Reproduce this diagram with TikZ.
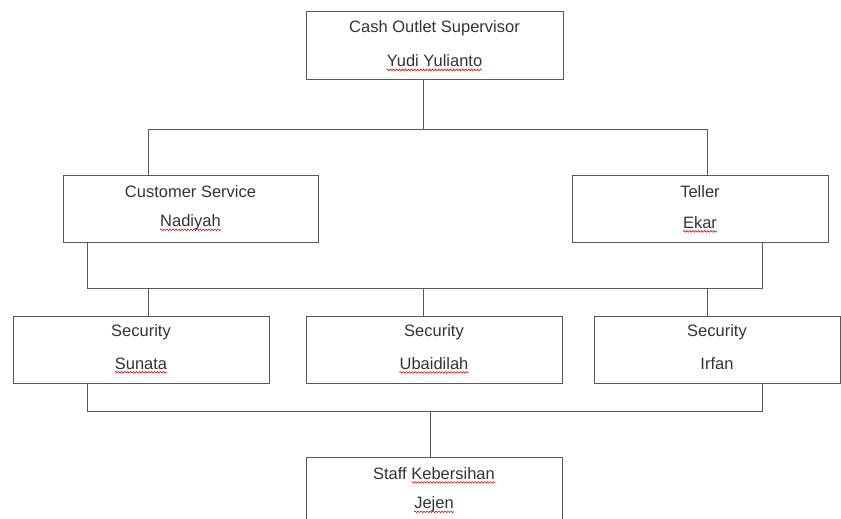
\documentclass[tikz,border=0pt]{standalone}
\usepackage{fontspec}
\setmainfont{Liberation Sans}
\usepackage{tikz}
\usetikzlibrary{decorations.pathmorphing}

\tikzset{
  orgbox/.style={draw=black!65, line width=1pt, rectangle, minimum height=67pt,
    inner sep=0pt},
  boxtext/.style={inner sep=0pt, text=black!80, font=\fontsize{16.5}{19.8}\selectfont},
  orgline/.style={draw=black!65, line width=1pt},
  spellwave/.style={red, line width=0.6pt, decorate,
    decoration={snake, amplitude=0.8pt, segment length=3pt}}
}

\begin{document}
\begin{tikzpicture}[x=1pt,y=1pt,yscale=-1,xscale=1]
        \useasboundingbox (0,0) rectangle (841,519);

        % Boxes
        \node (sup) [orgbox, minimum width=257pt, minimum height=68pt] at (434.5,46) {};
        \node (cs) [orgbox, minimum width=255pt] at (190.5,208.5) {};
        \node (tel) [orgbox, minimum width=256pt] at (700,208.5) {};
        \node (sec1) [orgbox, minimum width=256pt] at (141,349.5) {};
        \node (sec2) [orgbox, minimum width=256pt] at (434,349.5) {};
        \node (sec3) [orgbox, minimum width=246pt] at (717,349.5) {};
        \node (staff) [orgbox, minimum width=256pt] at (434,490.5) {};

        % Text Node
        \node (supt) [boxtext] at ([yshift=-18pt]sup.center) {Cash Outlet Supervisor};
        \node (supn) [boxtext] at ([yshift=15pt]sup.center) {Yudi Yulianto};
        % Text Node
        \node (cst) [boxtext] at ([yshift=-17pt]cs.center) {Customer Service};
        \node (csn) [boxtext] at ([yshift=14pt]cs.center) {Nadiyah};
        % Text Node
        \node (telt) [boxtext] at ([yshift=-17pt]tel.center) {Teller};
        \node (teln) [boxtext] at ([yshift=14pt]tel.center) {Ekar};
        % Text Node
        \node (sec1t) [boxtext] at ([yshift=-17pt]sec1.center) {Security};
        \node (sec1n) [boxtext] at ([yshift=14pt]sec1.center) {Sunata};
        % Text Node
        \node (sec2t) [boxtext] at ([yshift=-17pt]sec2.center) {Security};
        \node (sec2n) [boxtext] at ([yshift=14pt]sec2.center) {Ubaidilah};
        % Text Node
        \node (sec3t) [boxtext] at ([yshift=-17pt]sec3.center) {Security};
        \node (sec3n) [boxtext] at ([yshift=14pt]sec3.center) {Irfan};
        % Text Node
        \node (stafft) [boxtext] at ([yshift=-17pt]staff.center) {Staff Kebersihan};
        \node (staffn) [boxtext] at ([yshift=14pt]staff.center) {Jejen};

        % spell-check waves
        \draw [spellwave] ([yshift=3pt]supn.base west) -- ([yshift=3pt]supn.base east);
        \draw [spellwave] ([yshift=3pt]csn.base west) -- ([yshift=3pt]csn.base east);
        \draw [spellwave] ([yshift=3pt]teln.base west) -- ([yshift=3pt]teln.base east);
        \draw [spellwave] ([yshift=3pt]sec1n.base west) -- ([yshift=3pt]sec1n.base east);
        \draw [spellwave] ([yshift=3pt]sec2n.base west) -- ([yshift=3pt]sec2n.base east);
        \draw [spellwave] ([xshift=38.5pt,yshift=3pt]stafft.base west) -- ([yshift=3pt]stafft.base east);
        \draw [spellwave] ([yshift=3pt]staffn.base west) -- ([yshift=3pt]staffn.base east);

        %Straight Lines -- upper bus
        \coordinate (u1) at (148,129);
        \coordinate (u2) at (423,129);
        \coordinate (u3) at (707,129);
        \draw [orgline] (u2 |- sup.south) -- (u2);
        \draw [orgline] (u1 |- cs.north) -- (u1) -- (u3) -- (u3 |- tel.north);

        %Straight Lines -- middle bus
        \coordinate (m1) at (87,288);
        \coordinate (m2) at (762,288);
        \coordinate (m3) at (148,288);
        \coordinate (m4) at (423,288);
        \coordinate (m5) at (707,288);
        \draw [orgline] (m1 |- cs.south) -- (m1) -- (m2) -- (m2 |- tel.south);
        \draw [orgline] (m3) -- (m3 |- sec1.north);
        \draw [orgline] (m4) -- (m4 |- sec2.north);
        \draw [orgline] (m5) -- (m5 |- sec3.north);

        %Straight Lines -- lower bus
        \coordinate (l1) at (87,411);
        \coordinate (l2) at (762,411);
        \coordinate (l3) at (430,411);
        \draw [orgline] (l1 |- sec1.south) -- (l1) -- (l2) -- (l2 |- sec3.south);
        \draw [orgline] (l3) -- (l3 |- staff.north);
\end{tikzpicture}
\end{document}
